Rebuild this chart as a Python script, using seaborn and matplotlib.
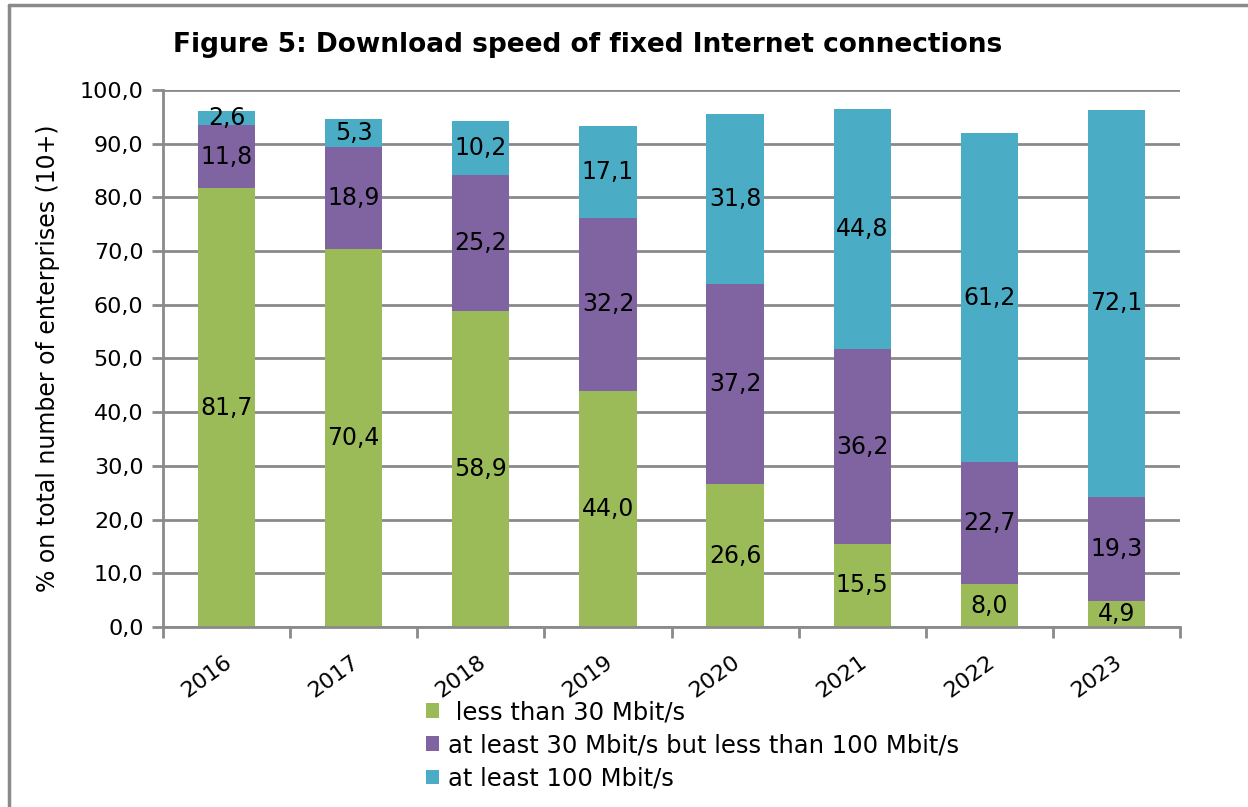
import matplotlib
matplotlib.use("Agg")
import matplotlib.pyplot as plt
import matplotlib.transforms as mtransforms
import seaborn as sns
import pandas as pd
import numpy as np
from matplotlib.lines import Line2D
from matplotlib.patches import Patch

years = ["2016", "2017", "2018", "2019", "2020", "2021", "2022", "2023"]
low = [81.7, 70.4, 58.9, 44.0, 26.6, 15.5, 8.0, 4.9]
mid = [11.8, 18.9, 25.2, 32.2, 37.2, 36.2, 22.7, 19.3]
high = [2.6, 5.3, 10.2, 17.1, 31.8, 44.8, 61.2, 72.1]
series_names = [" less than 30 Mbit/s",
                "at least 30 Mbit/s but less than 100 Mbit/s",
                "at least 100 Mbit/s"]
colors = ["#9BBB59", "#8064A2", "#4BACC6"]
yticks = [0, 10, 20, 30, 40, 50, 60, 70, 80, 90, 100]

sns.set_theme(style="white")
plt.rcParams['font.family'] = ['DejaVu Sans']
plt.rcParams['text.color'] = 'black'
plt.rcParams['xtick.color'] = 'black'
plt.rcParams['ytick.color'] = 'black'
plt.rcParams['axes.labelcolor'] = 'black'

fig = plt.figure(figsize=(12.48, 8.07), dpi=100)
ax = fig.add_axes([163/1248, 1-627/807, (1180-163)/1248, (627-90)/807])

df = pd.DataFrame({"year": years, "low": low, "mid": mid, "high": high})
df["c1"] = df["low"]
df["c2"] = df["low"] + df["mid"]
df["c3"] = df["c2"] + df["high"]

grid_c = "#8a8a8a"
for v in yticks:
    ax.axhline(v, color=grid_c, lw=2, zorder=0)

for col, c in zip(["c3", "c2", "c1"], colors[::-1]):
    sns.barplot(data=df, x="year", y=col, color=c, width=0.45, ax=ax,
                saturation=1, linewidth=0, zorder=2)

for i in range(len(years)):
    bottoms = [0, low[i], low[i] + mid[i]]
    for b, v in zip(bottoms, [low[i], mid[i], high[i]]):
        ax.text(i, b + v / 2, f"{v:.1f}".replace(".", ","), ha="center",
                va="center", fontsize=17, color="black", zorder=3)

ax.set_ylim(0, 100)
ax.set_xlim(-0.5, len(years) - 0.5)
ax.set_yticks(yticks)
ax.set_yticklabels([f"{v:.1f}".replace(".", ",") for v in yticks], fontsize=16)
ax.set_xticks(range(len(years)))
ax.set_xticklabels(years, fontsize=16, rotation=36, ha="right",
                   rotation_mode="anchor")
ax.tick_params(axis="x", length=0, pad=18)
ax.tick_params(axis="y", length=8, width=2, color=grid_c, left=True, pad=6)
ax.set_xticks(np.arange(-0.5, len(years)), minor=True)
ax.tick_params(axis="x", which="minor", length=8, width=2, color=grid_c, bottom=True)
offset = mtransforms.ScaledTranslation(-3/100, 0, fig.dpi_scale_trans)
for lbl in ax.get_xticklabels():
    lbl.set_transform(lbl.get_transform() + offset)
for s in ["top", "right"]:
    ax.spines[s].set_visible(False)
for s in ["left", "bottom"]:
    ax.spines[s].set_color(grid_c)
    ax.spines[s].set_linewidth(2)
ax.set_xlabel("")
ax.set_ylabel("% on total number of enterprises (10+)", fontsize=17, labelpad=14)

fig.text(588/1248, 1-45/807, "Figure 5: Download speed of fixed Internet connections",
         ha="center", va="center", fontsize=19, fontweight="bold")

handles = [Patch(facecolor=c, edgecolor="none") for c in colors]
fig.legend(handles, series_names, loc="upper left",
           bbox_to_anchor=(426/1248, 1-700/807), frameon=False, fontsize=17.5,
           handlelength=0.55, handleheight=0.55, handletextpad=0.35, labelspacing=0.38,
           borderaxespad=0, borderpad=0)

fig.add_artist(Line2D([9/1248, 9/1248], [0, 1-5/807], color="#8a8a8a", lw=2.5,
                      transform=fig.transFigure))
fig.add_artist(Line2D([9/1248, 1], [1-5/807, 1-5/807], color="#8a8a8a", lw=2.5,
                      transform=fig.transFigure))

fig.savefig("out.png", dpi=100)
